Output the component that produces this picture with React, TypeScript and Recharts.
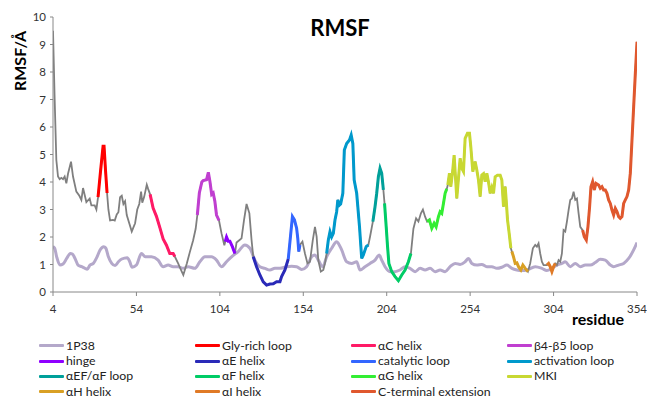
import { Line, LineChart, XAxis, YAxis } from "recharts";

// mutant RMSF (grey line, coloured where a region is highlighted)
const residues = [
  4, 5, 6, 7, 8, 9, 10, 11, 12, 13, 14.8, 16, 18, 19.8, 21, 22, 24, 26, 27, 29, 30,
  31, 32.5, 34, 34.6, 35.5, 36.4, 37.2, 38.2, 40, 41, 42.2, 43.2, 44.2, 45.2, 46.2, 47.2,
  48.2, 49.7, 51.2, 52.2, 53.2, 54.5, 55.7, 56.8, 57.5, 58.6, 60.2, 61, 62.2, 64, 66, 68,
  70, 72, 74, 76, 77, 79, 80.7, 82.1, 84.2, 86, 88, 89.5, 90.5, 91.7, 93.2, 94, 96, 97.1,
  98.1, 99.1, 100, 101, 102, 103.5, 105, 106.7, 107.2, 108, 109, 110, 111.5, 113, 114,
  116, 117, 118.5, 120, 121.7, 123, 124, 126, 128, 130, 132, 134, 136, 138, 140, 141, 143,
  145, 146.5, 147.5, 148.7, 150, 150.7, 151.3, 152, 153.5, 155, 156.5, 158, 159.7, 161,
  162, 163, 164.5, 166, 167, 168, 169, 170, 171, 172, 173, 174, 174.7, 175.7, 176.4,
  177.7, 178.6, 180, 181.7, 182.7, 183.7, 184.5, 186, 187.7, 189, 190, 191.7, 193, 194,
  195.7, 197, 198, 199, 200, 201, 202, 202.7, 203.7, 204.5, 205.3, 207, 209, 211, 213,
  215, 217, 218.5, 220, 221.6, 223, 224.5, 225.7, 227, 228.2, 229.6, 231, 232.4, 233.6,
  235, 236, 237, 238, 239, 240, 240.6, 241.6, 242.4, 243.4, 244.4, 246, 248, 249, 250,
  251, 252.4, 253.6, 254.4, 255.6, 257, 258, 259, 260, 261, 262, 263, 264, 265, 266, 267,
  268, 269, 270.4, 272, 273, 274, 275, 275.6, 276.4, 277.4, 278.4, 279, 280, 281, 282,
  283, 284.4, 285.6, 287, 288.6, 290, 291.6, 293, 294, 295, 296, 297, 298, 300, 301, 302,
  303, 304, 305, 306, 307, 308, 309, 310, 311, 312, 313, 314, 315, 316, 317, 318, 319,
  320, 321.4, 322.4, 323.6, 324.6, 325.6, 326.4, 327.4, 328.4, 329.4, 331, 332, 333, 334,
  335, 336, 337, 338, 339, 340, 341, 342, 343, 344, 345, 346, 347, 348, 349, 350, 351,
  352, 353, 354,
];
const rmsf = [
  9.5, 7.0, 4.8, 4.2, 4.1, 4.15, 4.1, 4.2, 3.95, 4.3, 4.74, 4.2, 3.65, 3.5, 3.35, 3.78,
  3.27, 3.4, 3.15, 3.15, 3.0, 3.45, 4.4, 5.3, 5.3, 4.4, 3.6, 3.0, 2.6, 2.62, 2.6, 2.82,
  2.9, 3.45, 3.5, 3.2, 3.3, 2.8, 2.5, 2.2, 2.35, 2.5, 3.0, 3.2, 3.65, 3.25, 3.45, 3.9,
  3.75, 3.55, 3.05, 2.75, 2.35, 1.93, 1.7, 1.4, 1.4, 1.29, 1.04, 0.8, 0.62, 1.04, 1.45,
  1.88, 2.3, 2.8, 3.6, 4.0, 4.05, 4.08, 4.35, 4.0, 3.55, 3.6, 3.3, 2.8, 2.6, 2.13, 1.7,
  1.83, 2.0, 1.85, 1.85, 1.65, 1.4, 1.8, 1.9, 1.95, 2.62, 3.2, 2.86, 1.89, 1.28, 0.92,
  0.62, 0.37, 0.25, 0.29, 0.3, 0.37, 0.37, 0.56, 0.8, 1.2, 2.13, 2.74, 2.62, 2.32, 1.95,
  1.47, 1.71, 1.83, 1.4, 1.04, 1.1, 1.89, 2.37, 2.01, 1.16, 0.74, 0.8, 1.04, 1.4, 1.89,
  2.19, 2.0, 2.13, 2.62, 2.92, 3.35, 3.16, 3.2, 3.59, 5.16, 5.4, 5.53, 5.71, 5.4, 4.07,
  3.59, 2.37, 1.22, 1.35, 1.65, 1.71, 2.01, 2.56, 3.1, 3.59, 4.19, 4.5, 4.32, 3.71, 3.22,
  2.37, 1.65, 1.04, 0.74, 0.56, 0.41, 0.62, 0.8, 1.1, 1.4, 2.3, 2.68, 2.56, 2.86, 3.0,
  2.74, 2.56, 2.62, 2.32, 2.5, 2.37, 2.74, 2.92, 2.86, 3.22, 3.59, 3.75, 3.89, 4.32,
  3.83, 4.32, 4.98, 3.4, 4.86, 4.5, 4.38, 5.59, 5.77, 5.77, 5.28, 4.38, 4.74, 4.44, 4.07,
  3.47, 4.25, 4.3, 4.01, 4.32, 4.0, 3.59, 3.8, 3.59, 4.19, 4.25, 4.25, 4.07, 3.1, 3.83,
  3.35, 2.62, 2.13, 1.59, 1.47, 1.28, 1.04, 1.06, 0.92, 0.8, 0.98, 0.86, 0.74, 1.04, 1.59,
  1.71, 1.65, 1.77, 1.4, 1.1, 0.98, 0.98, 1.04, 0.92, 0.74, 0.92, 1.04, 0.98, 1.16, 1.1,
  1.4, 2.25, 2.2, 2.56, 2.98, 3.35, 3.4, 3.65, 3.35, 3.4, 2.86, 2.37, 2.25, 2.01, 1.89,
  2.37, 3.1, 3.83, 4.01, 3.71, 3.95, 3.89, 3.77, 3.83, 3.71, 3.71, 3.59, 3.35, 3.22, 2.98,
  2.8, 3.04, 2.92, 2.74, 2.68, 2.74, 3.22, 3.35, 3.47, 3.71, 4.32, 5.53, 6.74, 7.95, 9.1,
];

// 1P38 reference structure
const refResidues = [
  4, 5, 6.2, 8.2, 10, 12.2, 14.4, 15.6, 17.2, 19, 21.2, 23.2, 24.5, 26.2, 28.2, 30.2,
  32.2, 34.4, 35.6, 37.2, 39.2, 41.2, 43.2, 45.2, 48.5, 50, 51.4, 54, 57, 59.3, 63, 67,
  70, 73, 76, 79, 82, 85, 89, 92, 95, 99, 102, 105, 108, 111, 115, 119, 122, 125, 128,
  131, 134, 137, 140, 144, 147, 150, 153, 156, 159, 161, 163, 165.7, 168, 171, 174, 175,
  177, 180, 183, 186, 188, 191, 194, 197, 199.5, 201, 203, 206, 209, 212, 215, 218, 221,
  224, 227, 230, 233, 236, 239, 242, 245, 248, 251, 253, 255, 258, 261, 264, 267, 270,
  273, 276, 279, 282, 285, 288, 293, 297, 300, 303, 306, 309, 311, 314, 317, 320, 323,
  326, 329, 332, 335, 338, 340, 343, 346, 349, 352, 354,
];
const refRmsf = [
  1.65, 1.59, 1.28, 0.98, 1.02, 1.22, 1.4, 1.38, 1.22, 0.98, 0.92, 0.86, 0.83, 0.98, 1.04,
  1.25, 1.53, 1.65, 1.6, 1.28, 1.04, 0.96, 1.1, 1.2, 1.25, 1.1, 0.9, 0.98, 1.4, 1.28,
  1.28, 1.16, 0.92, 0.98, 0.92, 0.92, 0.86, 0.92, 0.86, 1.1, 1.28, 1.28, 1.16, 0.92, 1.1,
  1.28, 1.47, 1.71, 1.59, 1.16, 0.92, 0.86, 0.8, 0.86, 0.86, 0.92, 0.94, 0.92, 0.82,
  0.92, 1.28, 1.35, 1.16, 0.92, 1.28, 1.59, 1.83, 1.77, 1.53, 1.1, 1.04, 1.1, 0.8, 0.92,
  1.04, 1.16, 1.35, 1.16, 0.92, 0.74, 0.74, 0.8, 0.92, 0.86, 0.74, 0.86, 0.8, 0.86, 0.74,
  0.8, 0.74, 0.92, 1.04, 1.0, 1.1, 1.22, 1.04, 0.98, 1.0, 0.92, 0.92, 0.86, 0.9, 0.98,
  0.86, 0.8, 0.78, 0.8, 0.92, 0.86, 0.78, 0.86, 0.98, 1.04, 1.1, 0.92, 1.04, 0.92, 0.98,
  0.98, 1.07, 1.19, 1.16, 0.98, 0.92, 0.98, 1.04, 1.22, 1.53, 1.8,
];

// highlighted regions: name, first residue, last residue, colour
const regionNames = [
  "Gly-rich loop", "αC helix", "β4-β5 loop", "hinge", "αE helix", "catalytic loop",
  "activation loop", "αEF/αF loop", "αF helix", "αG helix", "MKI", "αH helix", "αI helix",
  "C-terminal extension",
];
const regionStart = [31, 62.2, 90.5, 107.2, 124, 145, 168, 195.7, 202.7, 228.2, 240.6, 279, 300, 321.4];
const regionEnd = [36.4, 77, 103.5, 113, 145, 152, 193, 202, 218.5, 240, 278.4, 288.6, 305, 354];
const regionColors = [
  "#ff0000", "#ff1a66", "#c03fd0", "#8f00ff", "#2a2ab8", "#3366ff", "#0099cc",
  "#00a09a", "#00cc66", "#33ee33", "#c8d832", "#d9a024", "#e07a26", "#e0582e",
];

const xTicks = [4, 54, 104, 154, 204, 254, 304, 354];
const yTicks = [0, 1, 2, 3, 4, 5, 6, 7, 8, 9, 10];

const REF_COLOR = "#b4a8ca";
const GREY = "#7f7f7f";
const FONT = "Lato, 'Open Sans', sans-serif";

const mutantData = residues.map((x, i) => ({ x, y: rmsf[i] }));
const refData = refResidues.map((x, i) => ({ x, y: refRmsf[i] }));
const regions = regionNames.map((name, i) => ({
  name,
  color: regionColors[i],
  data: mutantData.filter((p) => p.x >= regionStart[i] && p.x <= regionEnd[i]),
}));

const legendItems = [{ name: "1P38", color: REF_COLOR }, ...regions.map((r) => ({ name: r.name, color: r.color }))];

export default function App() {
  const tick = { fontSize: 11.5, fill: "#333", fontFamily: FONT };
  return (
    <div style={{ position: "absolute", left: 0, top: 0, width: 647, height: 398, background: "#fff", fontFamily: FONT, overflow: "hidden" }}>
      <LineChart width={647} height={398} margin={{ top: 17, right: 10, bottom: 76, left: 23 }}>
        <XAxis
          dataKey="x"
          type="number"
          domain={[4, 354]}
          ticks={xTicks}
          allowDataOverflow
          stroke="#888"
          tickSize={4}
          tickMargin={9}
          tick={tick}
        />
        <YAxis
          type="number"
          domain={[0, 10]}
          ticks={yTicks}
          stroke="#888"
          width={30}
          tickSize={3}
          tickMargin={4}
          tick={tick}
        />
        <Line data={refData} dataKey="y" type="monotone" stroke={REF_COLOR} strokeWidth={3} dot={false} isAnimationActive={false} />
        <Line data={mutantData} dataKey="y" type="linear" stroke={GREY} strokeWidth={1.8} dot={false} isAnimationActive={false} />
        {regions.map((r) => (
          <Line
            key={r.name}
            data={r.data}
            dataKey="y"
            type="linear"
            stroke={r.color}
            strokeWidth={3}
            dot={false}
            isAnimationActive={false}
          />
        ))}
      </LineChart>
      <div style={{ position: "absolute", left: 300, top: 14, width: 80, textAlign: "center", fontSize: 22, fontWeight: 700, color: "#000" }}>
        RMSF
      </div>
      <div
        style={{
          position: "absolute",
          left: 19,
          top: 61,
          transform: "translate(-50%, -50%) rotate(-90deg)",
          fontSize: 16,
          fontWeight: 700,
          whiteSpace: "nowrap",
          color: "#000",
        }}
      >
        RMSF/Å
      </div>
      <div style={{ position: "absolute", left: 572, top: 309, fontSize: 16, fontWeight: 700, color: "#000" }}>residue</div>
      <div style={{ position: "absolute", left: 39, top: 338, display: "grid", gridTemplateColumns: "156px 156px 156px 156px" }}>
        {legendItems.map((item) => (
          <div
            key={item.name}
            style={{ display: "flex", alignItems: "center", height: 15.4, lineHeight: "14px", fontSize: 12.3, color: "#222", whiteSpace: "nowrap" }}
          >
            <span style={{ display: "inline-block", width: 25, height: 3, background: item.color, marginRight: 2, borderRadius: 1 }} />
            {item.name}
          </div>
        ))}
      </div>
    </div>
  );
}
